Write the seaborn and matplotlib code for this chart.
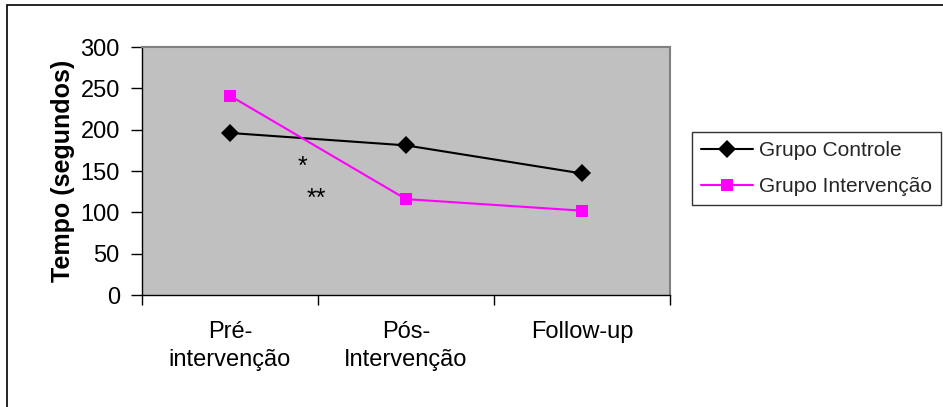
import matplotlib
matplotlib.use("Agg")
import matplotlib.pyplot as plt
import seaborn as sns
import pandas as pd
from matplotlib.patches import Rectangle

categories = ["Pré-\nintervenção", "Pós-\nIntervenção", "Follow-up"]
controle = [196, 181, 147]
intervencao = [241, 116, 102]
series_names = ["Grupo Controle", "Grupo Intervenção"]
yticks = [0, 50, 100, 150, 200, 250, 300]

df = pd.DataFrame({
    "Momento": categories * 2,
    "Tempo": controle + intervencao,
    "Grupo": [series_names[0]] * 3 + [series_names[1]] * 3,
})

sns.set_theme(style="white")
plt.rcParams["font.family"] = ["Liberation Sans", "DejaVu Sans"]

fig = plt.figure(figsize=(9.43, 4.07), dpi=100)
ax = fig.add_axes([142/943, 1-295/407, (670-142)/943, (295-47)/407])
ax.set_facecolor("#C0C0C0")

sns.lineplot(data=df, x="Momento", y="Tempo", hue="Grupo", style="Grupo",
             palette={series_names[0]: "black", series_names[1]: "#FF00FF"},
             markers={series_names[0]: "D", series_names[1]: "s"},
             dashes=False, markersize=9, linewidth=1.5, markeredgewidth=0,
             sort=False, ax=ax, legend=True)

ax.set_xlim(-0.5, 2.5)
ax.set_ylim(0, 300)
ax.set_yticks(yticks)
ax.set_xticks([0, 1, 2])
ax.set_xticklabels(categories)
ax.set_xticks([-0.5, 0.5, 1.5, 2.5], minor=True)
ax.tick_params(axis="x", which="major", length=0, pad=19, labelsize=17, colors="black")
ax.tick_params(axis="x", which="minor", length=7, width=1, direction="out", color="black", bottom=True)
ax.tick_params(axis="y", which="major", length=8, width=1, direction="out", pad=8,
               labelsize=17, color="black", left=True, labelcolor="black")
for lbl in ax.get_xticklabels():
    lbl.set_linespacing(1.35)
ax.set_xlabel("")
ax.set_ylabel("Tempo (segundos)", fontsize=18, fontweight="bold", labelpad=4, color="black")

for s in ["left", "bottom"]:
    ax.spines[s].set_color("black")
    ax.spines[s].set_linewidth(1)
for s in ["top", "right"]:
    ax.spines[s].set_color("#808080")
    ax.spines[s].set_linewidth(1.5)

# significance marks
ax.text(0.41, 155, "*", fontsize=18, ha="center", va="center", color="black")
ax.text(0.49, 116, "**", fontsize=18, ha="center", va="center", color="black")

leg = ax.legend(loc="upper left", bbox_to_anchor=(692/943, 1-132/407),
                bbox_transform=fig.transFigure, fontsize=15, frameon=True,
                fancybox=False, handlelength=2.5, handletextpad=0.25,
                borderpad=0.45, labelspacing=0.8, borderaxespad=0)
leg.get_frame().set_edgecolor("black")
leg.get_frame().set_linewidth(1)

fig.patches.append(Rectangle((7/943, -0.05), 1.0, 1-5/407+0.05, transform=fig.transFigure,
                             fill=False, edgecolor="black", linewidth=1.2))

fig.savefig("out.png", dpi=100, facecolor="white")
